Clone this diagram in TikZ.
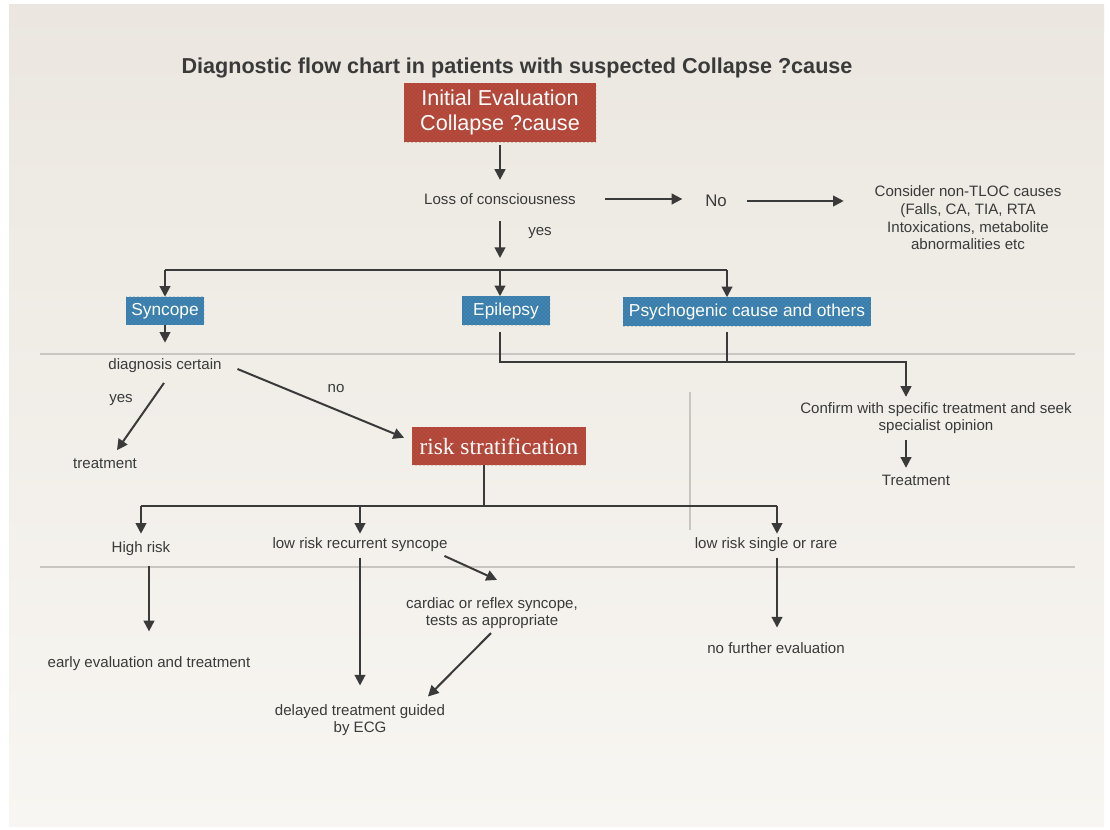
\documentclass[tikz,border=0pt]{standalone}
\usepackage{fontspec}
\setmainfont{Liberation Sans}
\newfontfamily\boxserif{Liberation Serif}
\usetikzlibrary{arrows.meta,patterns,calc}

\definecolor{ink}{HTML}{3A3A3A}
\definecolor{boxred}{HTML}{B84B3C}
\definecolor{boxblue}{HTML}{3F86B4}
\definecolor{papertop}{HTML}{EBE7E0}
\definecolor{paperbot}{HTML}{F8F6F2}
\definecolor{rule}{HTML}{C9C6C1}

\tikzset{
  txt/.style={text=ink, font=\fontsize{11.3}{13}\selectfont, inner sep=2pt, align=center},
  redbox/.style={fill=boxred, text=white, inner sep=0pt, align=center,
    postaction={pattern=crosshatch dots, pattern color=boxred!75!black}},
  bluebox/.style={fill=boxblue, text=white, inner sep=0pt, align=center,
    font=\fontsize{13}{15}\selectfont,
    postaction={pattern=crosshatch dots, pattern color=boxblue!70!black}},
  conn/.style={draw=ink, line width=1.5pt, -{Triangle[length=8pt,width=8pt]}},
  wire/.style={draw=ink, line width=1.5pt},
  sep/.style={draw=rule, line width=1.1pt},
}

\begin{document}
\begin{tikzpicture}[x=0.75pt, y=-0.75pt]
\useasboundingbox (0,0) rectangle (1110,830);
\fill[white] (0,0) rectangle (1110,830);
\shade[top color=papertop, bottom color=paperbot] (9,5) rectangle (1104,826);

% separators between the stages
\draw[sep] (40,354) -- (1075,354);
\draw[sep] (40,567) -- (1075,567);
\draw[sep, line width=0.8pt] (690,392) -- (690,530);

% title
\node[text=ink, font=\bfseries\fontsize{16.2}{19}\selectfont] (title) at (517,68)
  {Diagnostic flow chart in patients with suspected Collapse ?cause};

% first stage
\node[redbox, minimum width=144pt, minimum height=44.25pt,
  font=\fontsize{16.2}{18.7}\selectfont] (init) at (500,113)
  {\raisebox{-2pt}{\begin{tabular}{@{}c@{}}Initial Evaluation\\Collapse ?cause\end{tabular}}};
\node[txt] (loss) at (500,199) {Loss of consciousness};
\node[txt, font=\fontsize{12.6}{14}\selectfont] (no) at (716,201) {No};
\node[txt, font=\fontsize{11.3}{13.3}\selectfont] (tloc) at (968,218) {Consider non-TLOC causes\\(Falls, CA, TIA, RTA\\Intoxications, metabolite\\abnormalities etc};
\node[txt] (yes1) at (540,233) {yes};

\draw[conn, shorten <=1.5pt, shorten >=8pt] (init.south) -- (loss.north);
\draw[conn, shorten <=20pt, shorten >=15pt] (loss.east) -- (loss.east -| no.west);
\draw[conn, shorten <=13pt, shorten >=21pt] (no.east) -- (no.east -| tloc.west);

% branch to the three groups
\coordinate (split) at (500,270);
\coordinate (bS) at (165,270);
\coordinate (bP) at (727,270);
\node[bluebox, minimum width=58.5pt, minimum height=21pt] (syn) at (165,311) {Syncope};
\node[bluebox, minimum width=66pt, minimum height=21.75pt] (epi) at (506,311) {Epilepsy};
\node[bluebox, minimum width=186pt, minimum height=21.75pt] (psy) at (747,312) {Psychogenic cause and others};

\draw[conn, shorten <=10pt, shorten >=9pt] (loss.south) -- (split);
\draw[wire] (bS) -- (bP);
\draw[conn] (bS) -- (bS |- syn.north);
\draw[conn] (split) -- (split |- epi.north);
\draw[conn] (bP) -- (bP |- psy.north);

% epilepsy and psychogenic causes
\coordinate (j1) at (906,362);
\node[txt, font=\fontsize{11.3}{12.8}\selectfont] (confirm) at (936,418) {Confirm with specific treatment and seek\\specialist opinion};
\node[txt] (treat2) at (916,480) {Treatment};
\draw[conn, shorten <=5pt, shorten >=2pt] (split |- epi.south) -- (split |- j1) -- (j1) -- (j1 |- confirm.north);
\draw[wire, shorten <=4pt] (bP |- psy.south) -- (bP |- j1);
\draw[conn, shorten <=3pt, shorten >=3pt] (j1 |- confirm.south) -- (j1 |- treat2.north);

% syncope
\node[txt] (diag) at (165,366) {diagnosis certain};
\node[txt] (treat1) at (105,464) {treatment};
\node[txt] (yes2) at (121,400) {yes};
\node[txt] (no2) at (336,389) {no};
\node[redbox, minimum width=130pt, minimum height=28.5pt,
  font=\boxserif\fontsize{17.5}{20}\selectfont] (risk) at (499,446) {risk stratification};

\draw[conn, shorten >=10pt] (bS |- syn.south) -- (bS |- diag.north);
\draw[conn] ($(diag.south)+(-1,7)$) -- ($(treat1.north)+(12,-6)$);
\draw[conn] ($(diag.east)+(13,3)$) -- ($(risk.north west)+(-8,11)$);

% risk stratification outcomes
\coordinate (r0) at (484,506);
\coordinate (rH) at (141,506);
\coordinate (rL) at (360,506);
\coordinate (rS) at (777,506);
\node[txt] (high) at (141,549) {High risk};
\node[txt] (lowrec) at (360,545) {low risk recurrent syncope};
\node[txt] (lowsingle) at (766,545) {low risk single or rare};

\draw[wire] (r0 |- risk.south) -- (r0);
\draw[wire] (rH) -- (rS);
\draw[conn, shorten >=4pt] (rH) -- (rH |- high.north);
\draw[conn, shorten >=1pt] (rL) -- (rL |- lowrec.north);
\draw[conn, shorten >=1pt] (rS) -- (rS |- lowsingle.north);

% final stage
\node[txt] (early) at (149,664) {early evaluation and treatment};
\node[txt, font=\fontsize{11.3}{12.2}\selectfont] (cardiac) at (492,613) {cardiac or reflex syncope,\\tests as appropriate};
\node[txt, font=\fontsize{11.3}{12.8}\selectfont] (delayed) at (360,720) {delayed treatment guided\\by ECG};
\node[txt] (nofurther) at (776,648) {no further evaluation};

\draw[conn, shorten <=5pt, shorten >=17pt] (high.south -| early.north) -- (early.north);
\draw[conn, shorten <=2pt, shorten >=12pt] (lowrec.south) -- (delayed.north);
\draw[conn] ($(lowrec.south east)+(-6,1)$) -- ($(cardiac.north)+(5,-15)$);
\draw[conn] ($(cardiac.south)+(-1,2)$) -- ($(delayed.north east)+(-20,-5)$);
\draw[conn, shorten <=2pt, shorten >=9pt] (rS |- lowsingle.south) -- (rS |- nofurther.north);
\end{tikzpicture}
\end{document}
